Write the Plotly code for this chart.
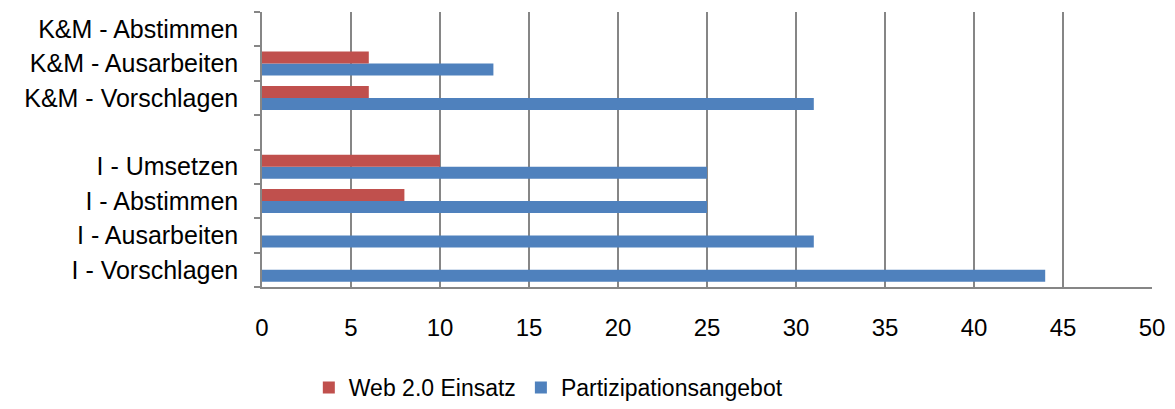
import plotly.graph_objects as go

categories = ["I - Vorschlagen", "I - Ausarbeiten", "I - Abstimmen", "I - Umsetzen", " ",
              "K&M - Vorschlagen", "K&M - Ausarbeiten", "K&M - Abstimmen"]
partizipation = [44, 31, 25, 25, None, 31, 13, 0]
web20 = [0, 0, 8, 10, None, 6, 6, 0]
x_ticks = [0, 5, 10, 15, 20, 25, 30, 35, 40, 45, 50]

fig = go.Figure()
fig.add_trace(go.Bar(y=categories, x=partizipation, orientation="h", name="Partizipationsangebot",
                     marker=dict(color="#4F81BD", line=dict(width=0)), legendrank=2))
fig.add_trace(go.Bar(y=categories, x=web20, orientation="h", name="Web 2.0 Einsatz",
                     marker=dict(color="#C0504D", line=dict(width=0)), legendrank=1))

# page body has an 8px default margin, so the figure is shrunk to fit the window
fig.update_layout(
    width=1167, height=401,
    margin=dict(l=254, r=23, t=4, b=122),
    paper_bgcolor="white", plot_bgcolor="white",
    barmode="group", bargap=0.3, bargroupgap=0,
    font=dict(family="Liberation Sans, Arial, sans-serif", size=24, color="black"),
    showlegend=True,
    legend=dict(orientation="h", xref="container", yref="container",
                x=0.463, xanchor="center", y=0.0, yanchor="bottom",
                font=dict(size=23), itemwidth=30, traceorder="normal"),
)
fig.update_xaxes(range=[0, 50], tickvals=x_ticks, showgrid=True, gridcolor="#868686", gridwidth=1.5,
                 zeroline=False, showline=True, linecolor="#868686", linewidth=1.5,
                 ticks="", ticklabelstandoff=18, automargin=False, tickfont=dict(size=24))
fig.update_yaxes(type="category", categoryorder="array", categoryarray=categories,
                 showgrid=False, showline=True, linecolor="#868686", linewidth=1.5,
                 ticks="outside", tickson="boundaries", ticklen=6, tickcolor="#868686", tickwidth=1.5,
                 ticklabelstandoff=17, automargin=False, tickfont=dict(size=25))

fig.write_html("out.html")
